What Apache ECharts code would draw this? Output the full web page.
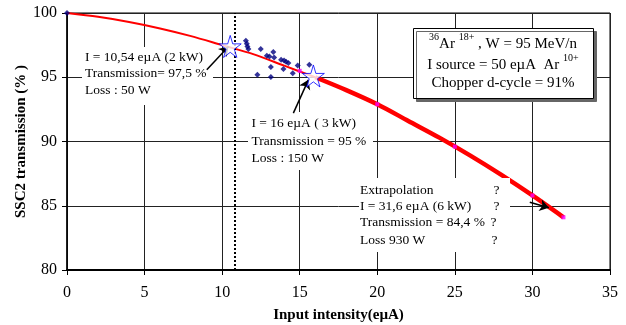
<!DOCTYPE html>
<html>
<head>
<meta charset="utf-8">
<script src="https://cdn.jsdelivr.net/npm/echarts@6/dist/echarts.min.js"></script>
<style>
  html, body {margin: 0; padding: 0; background: #fff;}
  #chart {width: 626px; height: 325px;}
</style>
</head>
<body>
<div id="chart"></div>
<script>
// measured curve (thin part) and extrapolation (thick part)
const measX = [0, 2, 4, 6, 8, 10, 12, 14, 16];
const measY = [100, 99.7, 99.3, 98.8, 98.2, 97.5, 96.8, 95.9, 95.0];
const extraX = [16, 18, 20, 22, 24, 26, 28, 30, 32];
const extraY = [95.0, 94.0, 92.9, 91.6, 90.3, 88.9, 87.4, 85.8, 84.1];
// magenta points on the extrapolation
const pinkX = [15, 20, 25, 30, 32];
const pinkY = [95.5, 92.9, 89.6, 85.8, 84.1];
// experimental points
const dotX = [0, 11.53, 11.59, 11.63, 11.69, 12.49, 12.88, 13.05, 13.30, 13.35, 13.14, 13.14, 12.27,
  13.80, 13.99, 14.12, 14.27, 13.95, 14.55, 14.87, 15.62];
const dotY = [100, 97.84, 97.61, 97.40, 97.19, 97.19, 96.67, 96.62, 96.96, 96.54, 95.79, 95.01, 95.19,
  96.36, 96.31, 96.20, 96.10, 95.64, 95.32, 95.92, 95.97];
// operating points (stars)
const starX = [10.52, 15.88];
const starY = [97.4, 95.1];
const limitX = 10.79;
// arrows [x1, y1, x2, y2]
const arrows = [
  [9.01, 95.58, 10.41, 97.40],
  [14.59, 92.21, 15.56, 94.80],
  [29.83, 85.27, 31.06, 84.85]
];
const xTicks = {min: 0, max: 35, interval: 5};
const yTicks = {min: 80, max: 100, interval: 5};

const pairs = (xs, ys) => xs.map((x, i) => [x, ys[i]]);
const serif = 'Liberation Serif';
const star = 'path://M50,0 L61,35 L98,35 L68,57 L79,91 L50,70 L21,91 L32,57 L2,35 L39,35 Z';

const txt = (x, y, s, extra) => ({
  type: 'text', z: 30,
  style: Object.assign({x: x, y: y, text: s, font: '13.5px "Liberation Serif"', fill: '#000',
    align: 'left', verticalAlign: 'middle'}, extra || {})
});
const box = (x, y, w, h, z) => ({
  type: 'rect', z: z, shape: {x: x, y: y, width: w, height: h},
  style: {fill: '#fff'}, silent: true
});
const supRich = {
  n: {fontSize: 15, fontFamily: serif, color: '#000', lineHeight: 20, verticalAlign: 'bottom'},
  s: {fontSize: 10, fontFamily: serif, color: '#000', lineHeight: 20, verticalAlign: 'top'}
};

const chart = echarts.init(document.getElementById('chart'));
chart.setOption({
  animation: false,
  grid: {left: 67, right: 16, top: 13, bottom: 55, outerBoundsMode: 'none',
    show: true, borderColor: '#000', borderWidth: 1},
  xAxis: {
    type: 'value', ...xTicks,
    name: 'Input intensity(eµA)', nameLocation: 'middle', nameGap: 38, nameMoveOverlap: false,
    nameTextStyle: {fontFamily: serif, fontSize: 15, fontWeight: 'bold', color: '#000'},
    axisLine: {lineStyle: {color: '#000', width: 2}},
    axisTick: {show: true, length: 5, lineStyle: {color: '#000'}},
    axisLabel: {fontFamily: serif, fontSize: 16, color: '#000', margin: 15},
    splitLine: {show: true, lineStyle: {color: '#222', width: 1}}
  },
  yAxis: {
    type: 'value', ...yTicks,
    name: 'SSC2 transmission (% )', nameLocation: 'middle', nameGap: 38, nameMoveOverlap: false,
    nameTextStyle: {fontFamily: serif, fontSize: 15, fontWeight: 'bold', color: '#000'},
    axisLine: {show: true, lineStyle: {color: '#000', width: 1.5}},
    axisTick: {show: true, length: 5, lineStyle: {color: '#000'}},
    axisLabel: {fontFamily: serif, fontSize: 16, color: '#000', margin: 10},
    splitLine: {show: true, lineStyle: {color: '#222', width: 1}}
  },
  series: [
    {
      type: 'line', data: pairs(measX, measY), smooth: 0.3, symbol: 'none', z: 3,
      lineStyle: {color: '#ff0000', width: 2},
      markLine: {
        silent: true, symbol: 'none', label: {show: false},
        lineStyle: {color: '#000', type: 'dotted', width: 2},
        data: [{xAxis: limitX}]
      }
    },
    {
      type: 'line', data: pairs(extraX, extraY), smooth: 0.3, symbol: 'none', z: 3,
      lineStyle: {color: '#ff0000', width: 4.5}
    },
    {
      type: 'scatter', data: pairs(pinkX, pinkY), symbol: 'rect', symbolSize: 4, z: 4,
      itemStyle: {color: '#ff00ff'}
    },
    {
      type: 'scatter', data: pairs(dotX, dotY), symbol: 'diamond', symbolSize: 6, z: 5,
      itemStyle: {color: '#000080'}
    },
    {
      type: 'scatter', data: pairs(starX, starY), symbol: star, symbolSize: 22, z: 6,
      itemStyle: {color: '#fff', borderColor: '#0000ff', borderWidth: 1}
    },
    {
      type: 'line', data: [], z: 7,
      markLine: {
        silent: true, symbol: ['none', 'arrow'], symbolSize: 9, label: {show: false},
        lineStyle: {color: '#000', type: 'solid', width: 1.5},
        data: arrows.map(a => [{coord: [a[0], a[1]]}, {coord: [a[2], a[3]]}])
      }
    }
  ],
  graphic: [
    box(82, 47, 131, 58, 1),
    box(248, 112, 125, 58, 1),
    box(359, 178, 151, 74, 10),
    txt(85, 57.3, 'I = 10,54 eµA (2 kW)'),
    txt(85, 73.8, 'Transmission= 97,5 %'),
    txt(85, 90.5, 'Loss : 50 W'),
    txt(251.5, 123.5, 'I = 16 eµA ( 3 kW)'),
    txt(251.5, 141, 'Transmission = 95 %'),
    txt(251.5, 158.3, 'Loss : 150 W'),
    txt(360, 190, 'Extrapolation'),
    txt(360, 206, 'I = 31,6 eµA (6 kW)'),
    txt(360, 222.5, 'Transmission = 84,4 %'),
    txt(360, 240, 'Loss 930 W'),
    txt(496.5, 190, '?', {align: 'center'}),
    txt(496.5, 206, '?', {align: 'center'}),
    txt(493.5, 222.5, '?', {align: 'center'}),
    txt(494.5, 240, '?', {align: 'center'}),
    {
      type: 'rect', z: 20, shape: {x: 413.5, y: 28.5, width: 180, height: 70},
      style: {fill: '#fff', stroke: '#000', lineWidth: 1,
        shadowColor: '#666', shadowOffsetX: 3, shadowOffsetY: 3, shadowBlur: 0}
    },
    {
      type: 'text', z: 30,
      style: {x: 503, y: 42, align: 'center', verticalAlign: 'middle',
        text: '{s|36}{n|Ar }{s|18+}{n| , W = 95 MeV/n}', rich: supRich}
    },
    {
      type: 'text', z: 30,
      style: {x: 503, y: 63, align: 'center', verticalAlign: 'middle',
        text: '{n|I source = 50 eµA  Ar }{s|10+}', rich: supRich}
    },
    {
      type: 'text', z: 30,
      style: {x: 503, y: 83.5, align: 'center', verticalAlign: 'middle',
        text: 'Chopper d-cycle = 91%', font: '15px "Liberation Serif"', fill: '#000'}
    }
  ]
});
</script>
</body>
</html>
